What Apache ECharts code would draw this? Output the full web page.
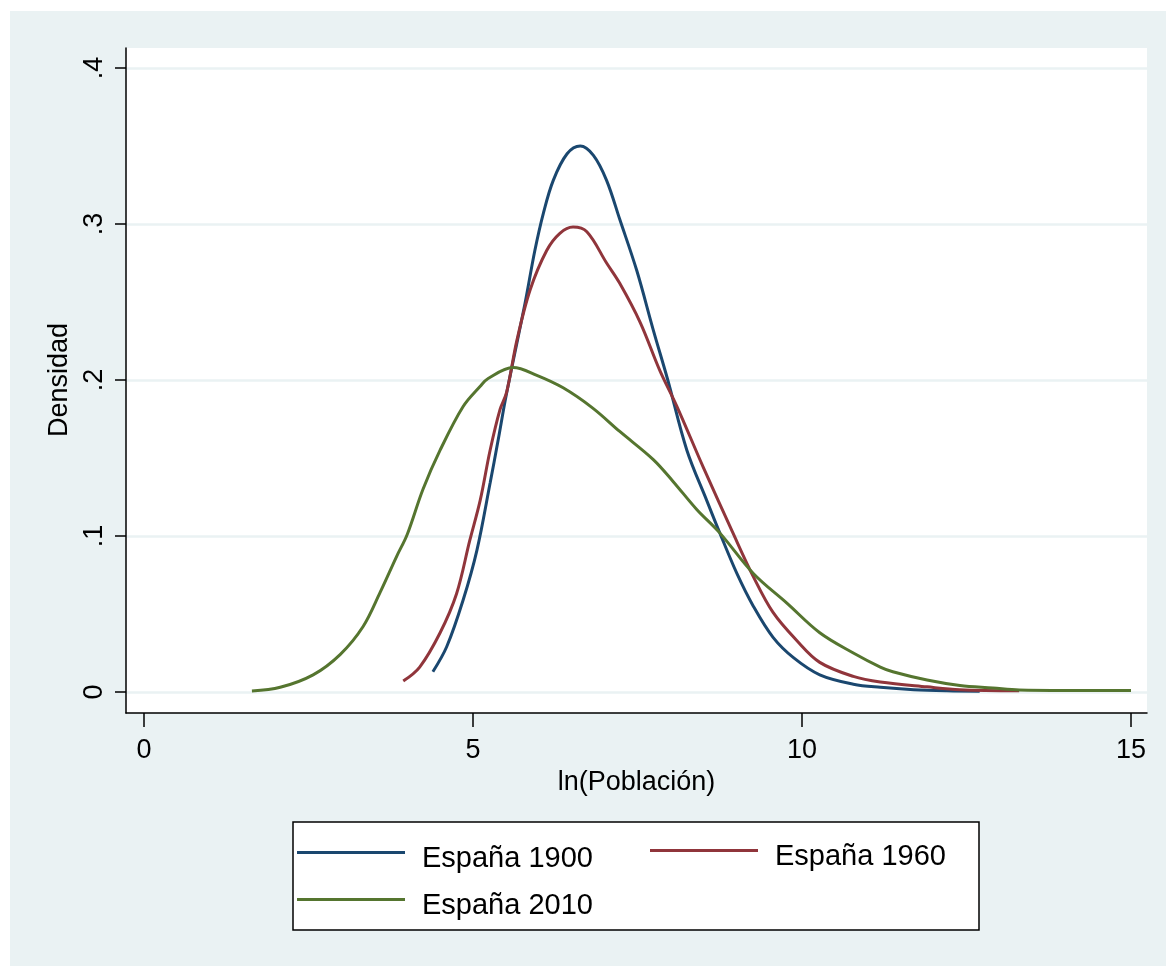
<!DOCTYPE html>
<html>
<head>
<meta charset="utf-8">
<script src="https://cdn.jsdelivr.net/npm/echarts@6/dist/echarts.min.js"></script>
<style>html,body{margin:0;padding:0;background:#fff}#c{width:1166px;height:966px}</style>
</head>
<body>
<div id="c"></div>
<script>
// Data (x = ln(Población), y = density)
const seriesNames = ['España 1900', 'España 1960', 'España 2010'];
const dens1900 = [
  [4.39,0.013],[4.60,0.029],[4.85,0.059],[5.06,0.091],[5.26,0.134],[5.38,0.161],[5.49,0.187],[5.59,0.208],
  [5.79,0.249],[5.94,0.283],[6.07,0.307],[6.22,0.328],[6.43,0.345],[6.63,0.350],[6.83,0.344],[7.03,0.328],
  [7.23,0.303],[7.49,0.270],[7.74,0.232],[7.96,0.200],[8.25,0.155],[8.55,0.123],[8.75,0.102],[9.01,0.076],
  [9.26,0.055],[9.56,0.035],[9.87,0.022],[10.27,0.011],[10.78,0.005],[11.19,0.003],[11.7,0.0015],[12.2,0.0008],[12.7,0.0005]
];
const dens1960 = [
  [3.94,0.007],[4.19,0.016],[4.50,0.038],[4.75,0.063],[4.95,0.097],[5.11,0.123],[5.26,0.155],[5.41,0.181],
  [5.51,0.192],[5.67,0.226],[5.87,0.258],[6.12,0.283],[6.32,0.294],[6.52,0.298],[6.73,0.295],[7.03,0.275],
  [7.23,0.262],[7.54,0.237],[7.84,0.206],[8.10,0.183],[8.50,0.144],[8.95,0.102],[9.26,0.074],[9.56,0.051],
  [9.92,0.033],[10.27,0.019],[10.78,0.010],[11.19,0.0064],[11.9,0.0033],[12.4,0.0015],[13.3,0.0008]
];
const dens2010 = [
  [1.64,0.0006],[2.07,0.003],[2.57,0.011],[2.98,0.024],[3.33,0.042],[3.59,0.064],[3.84,0.087],[4.00,0.101],
  [4.24,0.130],[4.50,0.155],[4.85,0.183],[5.11,0.196],[5.23,0.201],[5.61,0.208],[5.97,0.203],[6.37,0.195],
  [6.82,0.182],[7.23,0.167],[7.74,0.149],[8.04,0.135],[8.40,0.117],[8.75,0.102],[9.26,0.076],[9.77,0.057],
  [10.27,0.038],[10.78,0.025],[11.19,0.016],[11.38,0.013],[11.9,0.0077],[12.4,0.0042],[12.9,0.0026],
  [13.3,0.0013],[14.0,0.001],[15.0,0.001]
];
const xTickLabels = ['0', '5', '10', '15'];
const yTickLabels = ['0', '.1', '.2', '.3', '.4'];
const colors = ['#1a476f', '#90353b', '#55752f'];

const FONT = '"Liberation Sans", Arial, sans-serif';
const chart = echarts.init(document.getElementById('c'));

function lineSeries(i, data) {
  return {
    name: seriesNames[i], type: 'line', data: data,
    xAxisIndex: 1, yAxisIndex: 1,
    symbol: 'none', showSymbol: false, smooth: 0.35, clip: false,
    lineStyle: { color: colors[i], width: 3 },
    itemStyle: { color: colors[i] }
  };
}
function legendAt(i, left, top) {
  return {
    data: [seriesNames[i]], left: left, top: top, padding: 0,
    icon: 'rect', itemWidth: 108, itemHeight: 3, selectedMode: false,
    formatter: '{t|{name}}',
    textStyle: { fontSize: 29, color: '#000', fontFamily: FONT,
      rich: { t: { fontSize: 29, color: '#000', fontFamily: FONT, padding: [12, 0, 0, 12] } } }
  };
}

chart.setOption({
  backgroundColor: '#ffffff',
  animation: false,
  graphic: [
    { type: 'rect', z: -10, silent: true, shape: { x: 10, y: 11, width: 1156, height: 955 }, style: { fill: '#eaf2f3' } },
    { type: 'rect', z: 1, silent: true, shape: { x: 293, y: 822, width: 686, height: 108 }, style: { fill: '#ffffff', stroke: '#000', lineWidth: 1.5 } }
  ],
  grid: [
    { left: 126, right: 19, top: 48, bottom: 253, show: true, backgroundColor: '#ffffff', borderWidth: 0 },
    { left: 126, right: 19, top: 68, bottom: 274 },
    { left: 144, right: 35, top: 68, bottom: 274 }
  ],
  xAxis: [
    { gridIndex: 0, type: 'value', min: -0.2736, max: 15.243,
      axisLine: { show: true, onZero: false, lineStyle: { color: '#000', width: 1.5 } },
      axisTick: { show: false }, axisLabel: { show: false }, splitLine: { show: false },
      name: 'ln(Población)', nameLocation: 'middle', nameGap: 56,
      nameTextStyle: { fontSize: 27, color: '#000', fontFamily: FONT } },
    { gridIndex: 1, type: 'value', min: -0.2736, max: 15.243, show: false },
    { gridIndex: 2, type: 'value', min: 0, max: 15, interval: 5, offset: 21,
      axisLine: { show: false, onZero: false },
      axisTick: { show: true, length: 14, lineStyle: { color: '#000', width: 1.5 } },
      axisLabel: { margin: 24, fontSize: 27, color: '#000', fontFamily: FONT,
        formatter: v => xTickLabels[Math.round(v / 5)] },
      splitLine: { show: false } }
  ],
  yAxis: [
    { gridIndex: 0, type: 'value', min: -0.01346, max: 0.41282,
      axisLine: { show: true, onZero: false, lineStyle: { color: '#000', width: 1.5 } },
      axisTick: { show: false }, axisLabel: { show: false }, splitLine: { show: false } },
    { gridIndex: 1, type: 'value', min: 0, max: 0.4, interval: 0.1,
      axisLine: { show: false, onZero: false },
      axisTick: { show: true, length: 11, lineStyle: { color: '#000', width: 1.5 } },
      axisLabel: { rotate: 90, margin: 18, fontSize: 27, color: '#000', fontFamily: FONT,
        formatter: v => yTickLabels[Math.round(v * 10)] },
      splitLine: { show: true, lineStyle: { color: '#eaf2f3', width: 2.5 } },
      name: 'Densidad', nameLocation: 'middle', nameGap: 52, nameRotate: 90,
      nameTextStyle: { fontSize: 27, color: '#000', fontFamily: FONT } },
    { gridIndex: 2, type: 'value', min: 0, max: 0.4, show: false }
  ],
  legend: [
    legendAt(0, 297, 844),
    legendAt(1, 650, 842),
    legendAt(2, 297, 891)
  ],
  series: [
    lineSeries(0, dens1900),
    lineSeries(1, dens1960),
    lineSeries(2, dens2010)
  ]
});
</script>
</body>
</html>
